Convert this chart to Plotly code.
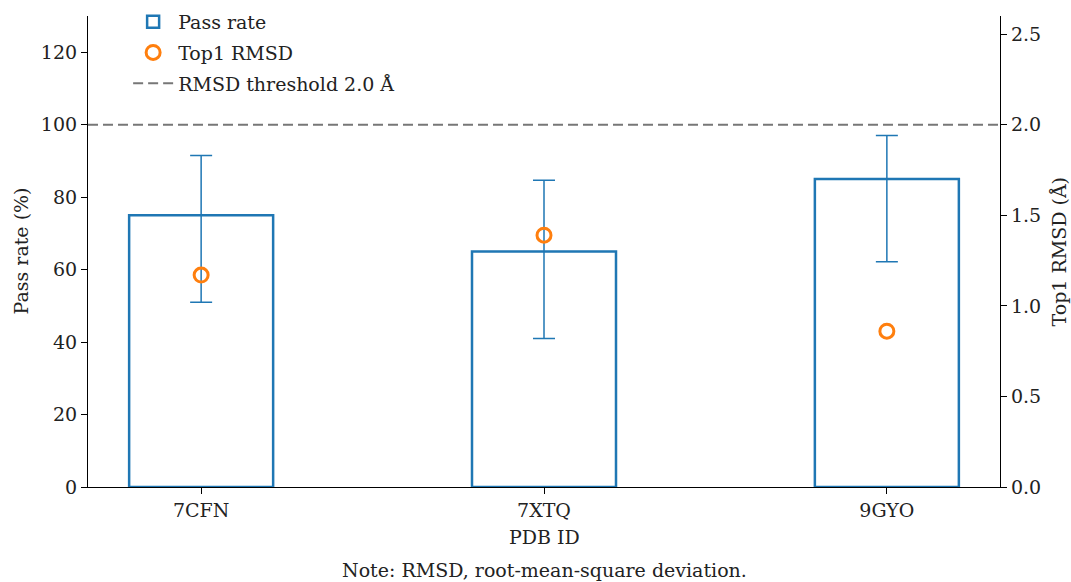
import plotly.graph_objects as go

pdb_ids = ["7CFN", "7XTQ", "9GYO"]
pass_rate = [75, 65, 85]
ci_low = [51.0, 41.0, 62.2]
ci_high = [91.5, 84.7, 97.0]
top1_rmsd = [1.17, 1.39, 0.86]
rmsd_threshold = 2.0

left_range = [0, 130]
right_range = [0, 2.6]

BLUE = "#1f77b4"
ORANGE = "#ff7f0e"
GRAY = "#777777"
FONT = "DejaVu Serif"
FS = 19

err_plus = [h - v for h, v in zip(ci_high, pass_rate)]
err_minus = [v - l for l, v in zip(ci_low, pass_rate)]

fig = go.Figure()
fig.add_trace(go.Bar(
    x=pdb_ids, y=pass_rate, name="Pass rate", width=0.42, legendgroup="a",
    marker=dict(color="rgba(255,255,255,0)", line=dict(color=BLUE, width=2.5)),
    error_y=dict(type="data", symmetric=False, array=err_plus, arrayminus=err_minus,
                 color=BLUE, thickness=1.5, width=11),
    yaxis="y",
))
fig.add_trace(go.Scatter(
    x=pdb_ids, y=top1_rmsd, name="Top1 RMSD", mode="markers", legendgroup="b",
    marker=dict(symbol="circle-open", size=14, color=ORANGE, line=dict(width=3, color=ORANGE)),
    yaxis="y2",
))
fig.add_trace(go.Scatter(
    x=[None], y=[None], name="RMSD threshold 2.0 Å", mode="lines", legendgroup="c",
    line=dict(color=GRAY, width=2, dash="10px,5px"),
    yaxis="y2",
))
fig.add_shape(type="line", xref="paper", x0=0, x1=1, yref="y2",
              y0=rmsd_threshold, y1=rmsd_threshold,
              line=dict(color=GRAY, width=2, dash="10px,5px"))

axis_common = dict(showline=True, linecolor="black", linewidth=1.2,
                   ticks="outside", ticklen=6, tickcolor="black",
                   showgrid=False, zeroline=False, automargin=False)

PW = 912
PH = 471

fig.update_layout(
    width=1071, height=582,
    margin=dict(l=88, r=71, t=16, b=95, autoexpand=False),
    plot_bgcolor="white", paper_bgcolor="white",
    font=dict(family=FONT, size=FS, color="#222222"),
    showlegend=True,
    legend=dict(x=0.044, y=0.995, xref="paper", yref="container",
                xanchor="left", yanchor="top",
                bgcolor="rgba(0,0,0,0)", font=dict(size=FS), tracegroupgap=3,
                itemwidth=40),
    xaxis=dict(range=[-0.33, 2.33], **axis_common),
    yaxis=dict(range=left_range, tickvals=[0, 20, 40, 60, 80, 100, 120], **axis_common),
    yaxis2=dict(range=right_range, overlaying="y", side="right",
                tickvals=[0, 0.5, 1.0, 1.5, 2.0, 2.5], tickformat=".1f", **axis_common),
    annotations=[
        dict(text="Pass rate (%)", xref="paper", yref="paper", x=(20 - 88) / PW, y=0.5,
             xanchor="center", yanchor="middle", textangle=-90, showarrow=False,
             font=dict(size=FS)),
        dict(text="Top1 RMSD (Å)", xref="paper", yref="paper", x=1 + 58 / PW, y=0.5,
             xanchor="center", yanchor="middle", textangle=-90, showarrow=False,
             font=dict(size=FS)),
        dict(text="PDB ID", xref="paper", yref="paper", x=0.5, y=-(537 - 487) / PH,
             xanchor="center", yanchor="middle", showarrow=False, font=dict(size=FS)),
        dict(text="Note: RMSD, root-mean-square deviation.", xref="paper", yref="paper",
             x=0.5, y=-(570 - 487) / PH, xanchor="center", yanchor="middle", showarrow=False,
             font=dict(size=FS)),
    ],
)

fig.write_html("out.html", config={"displayModeBar": False},
               post_script="document.body.style.margin='0';")
